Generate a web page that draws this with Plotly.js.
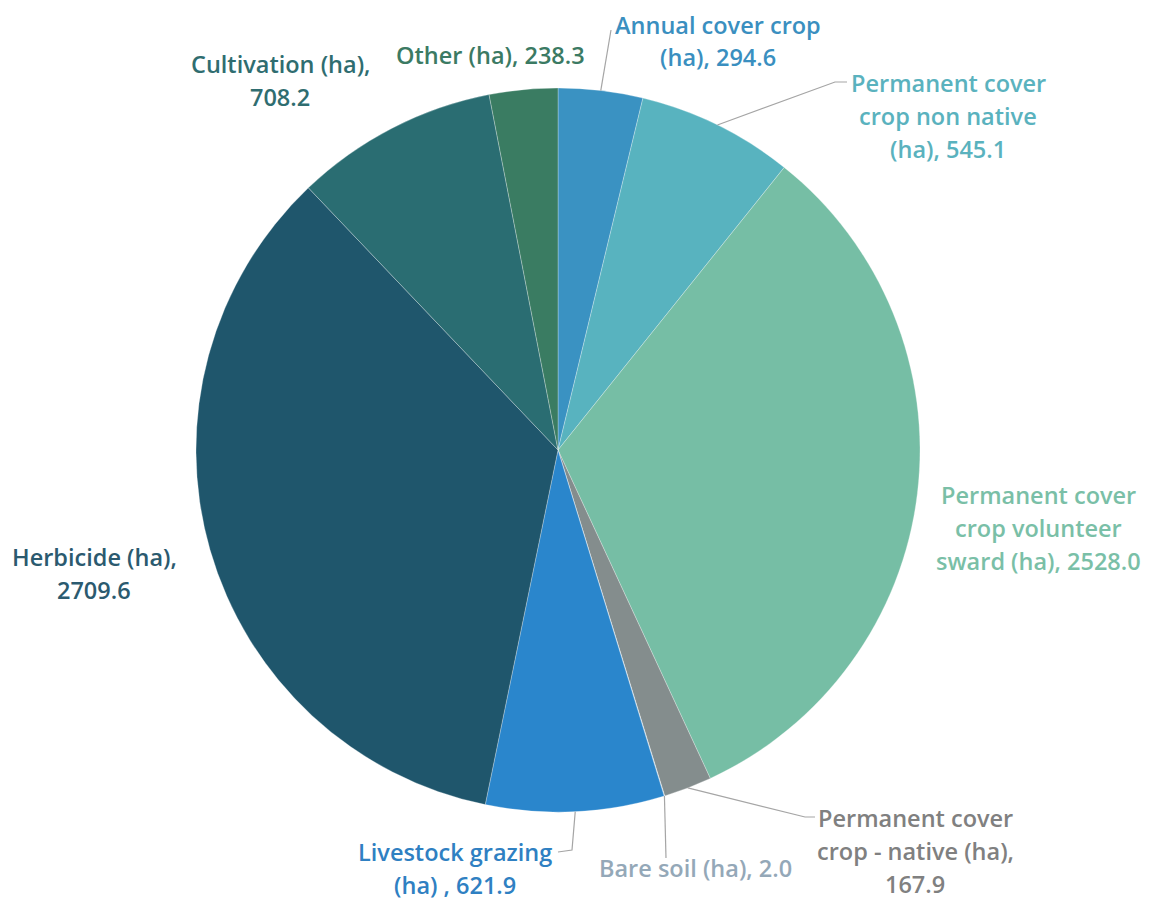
<!DOCTYPE html>
<html>
<head>
<meta charset="utf-8">
<script src="https://cdn.plot.ly/plotly-3.0.1.min.js"></script>
<style>html,body{margin:0;padding:0;background:#fff;}#chart{width:1154px;height:900px;}</style>
</head>
<body>
<div id="chart"></div>
<script>
// ---- data ----
const categories = [
  "Annual cover crop (ha)",
  "Permanent cover crop non native (ha)",
  "Permanent cover crop volunteer sward (ha)",
  "Permanent cover crop - native (ha)",
  "Bare soil (ha)",
  "Livestock grazing (ha)",
  "Herbicide (ha)",
  "Cultivation (ha)",
  "Other (ha)"
];
const values = [294.6, 545.1, 2528.0, 167.9, 2.0, 621.9, 2709.6, 708.2, 238.3];
const labelTexts = [
  "Annual cover crop<br>(ha), 294.6",
  "Permanent cover<br>crop non native<br>(ha), 545.1",
  "Permanent cover<br>crop volunteer<br>sward (ha), 2528.0",
  "Permanent cover<br>crop - native (ha),<br>167.9",
  "Bare soil (ha), 2.0",
  "Livestock grazing<br>(ha) , 621.9",
  "Herbicide (ha),<br>2709.6",
  "Cultivation (ha),<br>708.2",
  "Other (ha), 238.3"
];

// ---- style ----
const sliceColors = ["#3a92c2","#58b3bf","#76bea5","#848d8d","#b7c7d3","#2a86cc","#1f566c","#2a6d72","#3a7c62"];
const textColors  = ["#3a8fc0","#5ab2be","#7abfa7","#808080","#94a8b8","#2f80c2","#2b5a6f","#2f6d70","#3b7a63"];
const W = 1154, H = 900;
const CX = 558, CY = 450, R = 362;
const FS = 23.5, LINE_H = 33;
// label block centres (px) and leader-line routing (px), null = no leader line
const labelCenters = [[718,41],[948,116],[1038,528],[915,851],[695,868],[455,868],[94,573],[280,80],[490,55]];
const leaderEnds = [
  [[611,30]],
  [[835,82],[847,82]],
  null,
  [[805,817],[815,817]],
  [[666,858]],
  [[572,850],[558,852]],
  null, null, null
];

const px = x => x / W, py = y => 1 - y / H;

const total = values.reduce((a,b)=>a+b,0);
const annotations = [];
const shapes = [];
let cum = 0;
values.forEach((v,i) => {
  const mid = (cum + v/2) / total * 2 * Math.PI;
  cum += v;
  const lines = labelTexts[i].split("<br>");
  const [lx, ly] = labelCenters[i];
  lines.forEach((t,k) => {
    annotations.push({
      xref:"paper", yref:"paper", x:px(lx), y:py(ly + (k-(lines.length-1)/2)*LINE_H),
      text:t, showarrow:false, xanchor:"center", yanchor:"middle",
      font:{family:"'Open Sans', sans-serif", size:FS, color:textColors[i], weight:600}
    });
  });
  if (leaderEnds[i]) {
    const sx = CX + R*Math.sin(mid), sy = CY - R*Math.cos(mid);
    let path = `M ${px(sx)} ${py(sy)}`;
    leaderEnds[i].forEach(p => { path += ` L ${px(p[0])} ${py(p[1])}`; });
    shapes.push({type:"path", xref:"paper", yref:"paper", path:path,
      line:{color:"#a5a5a5", width:1.2}});
  }
});

const trace = {
  type:"pie",
  labels:categories,
  values:values,
  sort:false,
  direction:"clockwise",
  rotation:0,
  textinfo:"none",
  hoverinfo:"label+value",
  marker:{colors:sliceColors, line:{color:"rgba(255,255,255,0.35)", width:0.8}},
  domain:{x:[(CX-R)/W,(CX+R)/W], y:[1-(CY+R)/H, 1-(CY-R)/H]},
  showlegend:false
};

Plotly.newPlot("chart",[trace],{
  width:W, height:H,
  margin:{l:0,r:0,t:0,b:0},
  paper_bgcolor:"#ffffff",
  showlegend:false,
  annotations:annotations,
  shapes:shapes
},{displayModeBar:false, staticPlot:true});
</script>
</body>
</html>
